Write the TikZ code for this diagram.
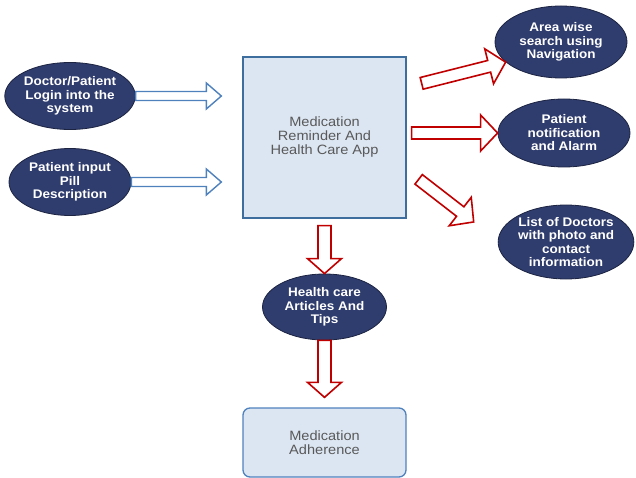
\documentclass[tikz,border=0pt]{standalone}
\usepackage{fontspec}
\setmainfont{Liberation Sans}
\newfontfamily\ellfont[FakeStretch=1.08]{Liberation Sans}
\usetikzlibrary{calc,shapes}

\definecolor{navy}{HTML}{2F3C6E}
\definecolor{boxfill}{HTML}{DCE6F2}
\definecolor{boxline}{HTML}{3D6E9E}
\definecolor{arrred}{HTML}{C00000}
\definecolor{arrblue}{HTML}{4F81BD}

% hollow block arrow: style, from, to, half shaft, half head, head length
\newcommand{\hollowarrow}[6]{%
  \draw[#1] let \p1=($(#3)-(#2)$), \n1={atan2(\y1,\x1)}, \n2={veclen(\x1,\y1)} in
    [shift={(#2)}, rotate=\n1]
    (0,-#4) -- ({\n2-#6},-#4) -- ({\n2-#6},-#5) -- (\n2,0)
    -- ({\n2-#6},#5) -- ({\n2-#6},#4) -- (0,#4) -- cycle;
}

\begin{document}
\begin{tikzpicture}[x=1pt, y=-1pt,
ell/.style={ellipse, draw=navy!60!black, line width=0.8pt, fill=navy, text=white, inner sep=0pt,
  align=center, font=\ellfont\bfseries\fontsize{12.5}{13.5}\selectfont},
appbox/.style={draw=boxline, line width=1.3pt, fill=boxfill, text=black!65, align=center,
  font=\ellfont\fontsize{13.5}{14}\selectfont},
redarr/.style={draw=arrred, line width=1.6pt, fill=white},
bluearr/.style={draw=arrblue, line width=1.4pt, fill=white}]
	\useasboundingbox (0,0) rectangle (636,478);

	\node[appbox, minimum width=163, minimum height=161] (app) at (324.5,137.5) {Medication\\Reminder And\\Health Care App};
	\node[appbox, draw=arrblue, rounded corners=7pt, minimum width=163, minimum height=69] (adh) at (324.5,442.5) {Medication\\Adherence};

	\node[ell, minimum width=122, minimum height=67] (login) at (70,96) {Doctor/Patient\\Login into the\\system};
	\node[ell, minimum width=122, minimum height=67] (pill) at (70,182) {Patient input\\Pill\\Description};
	\node[ell, minimum width=132, minimum height=72] (nav) at (561,42) {Area wise\\search using\\Navigation};
	\node[ell, minimum width=132, minimum height=68] (notif) at (564,133) {Patient\\notification\\and Alarm};
	\node[ell, minimum width=132, minimum height=74] (docs) at (566,242) {List of Doctors\\with photo and\\contact\\information};
	\node[ell, minimum width=124, minimum height=66] (tips) at (324.5,307) {Health care\\Articles And\\Tips};

	% arrow ends
	\coordinate (b1e) at ($(app.west |- login.east)+(-21,0)$);
	\coordinate (b2e) at ($(app.west |- pill.east)+(-21,0)$);
	\coordinate (r1s) at ($(app.north east)+(15,27)$);
	\coordinate (r1e) at (nav.200);
	\coordinate (r2s) at ($(app.east |- notif.west)+(5,0)$);
	\coordinate (r3s) at ($(app.north east)+(12,123)$);
	\coordinate (r3e) at ($(docs.west)+(-24,-20)$);
	\coordinate (d1s) at ($(app.south)+(0,7)$);
	\coordinate (d2e) at ($(adh.north)+(0,-10)$);

	\hollowarrow{bluearr}{login.east}{b1e}{4.5}{13}{15}
	\hollowarrow{bluearr}{pill.east}{b2e}{4.5}{13}{15}
	\hollowarrow{redarr}{r1s}{r1e}{6}{18}{17}
	\hollowarrow{redarr}{r2s}{notif.west}{6}{18}{17}
	\hollowarrow{redarr}{r3s}{r3e}{6}{18}{17}
	\hollowarrow{redarr}{d1s}{tips.north}{6.5}{17}{15}
	\hollowarrow{redarr}{tips.south}{d2e}{6.5}{17}{15}
\end{tikzpicture}
\end{document}
